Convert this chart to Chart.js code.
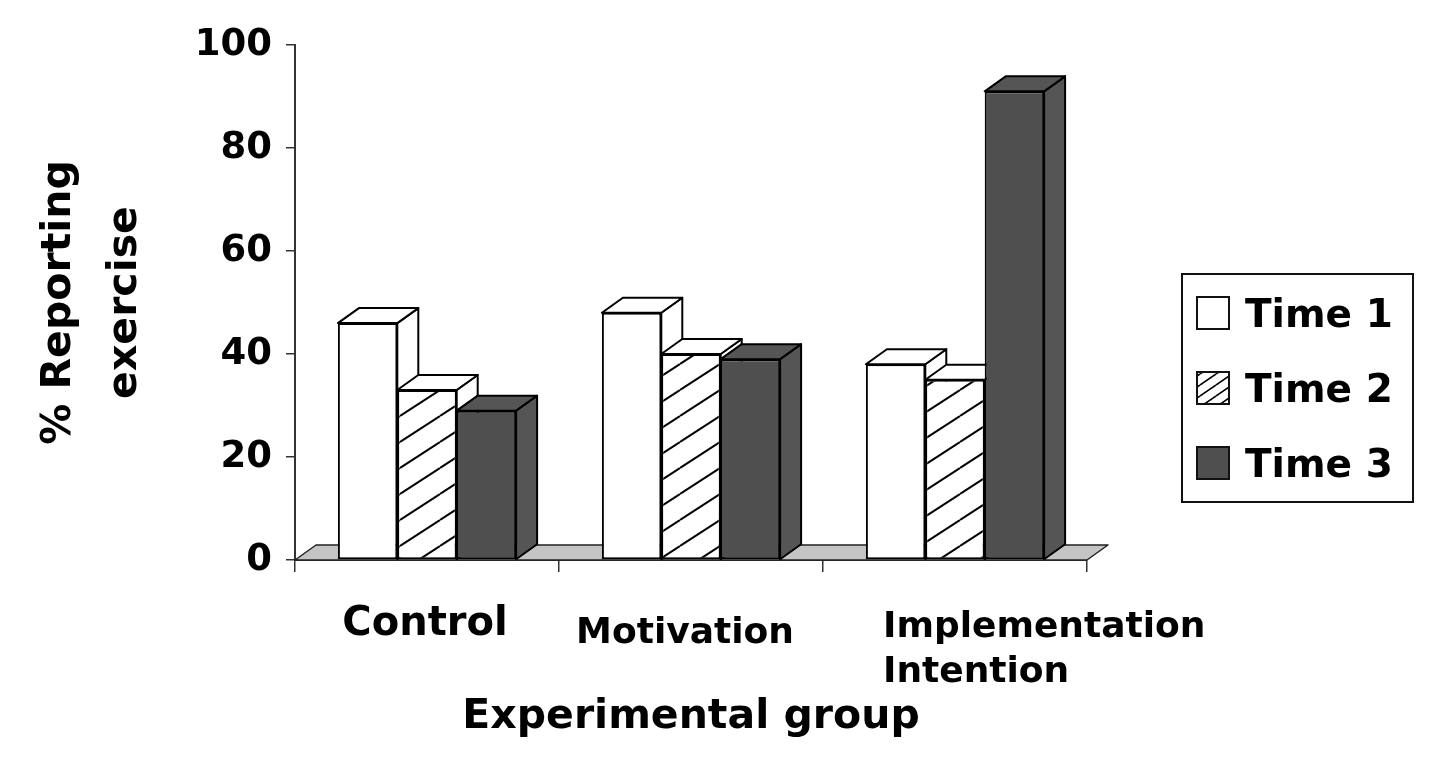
<!DOCTYPE html>
<html>
<head>
<meta charset="utf-8">
<script src="https://cdn.jsdelivr.net/npm/chart.js@4.4.1/dist/chart.umd.min.js"></script>
<style>
  html, body { margin: 0; padding: 0; background: #fff; }
  #wrap { width: 1440px; height: 757px; position: relative; }
</style>
</head>
<body>
<div id="wrap"><canvas id="chart"></canvas></div>
<script>
// values
const categories = ['Control', 'Motivation', ['Implementation', 'Intention']];
const seriesNames = ['Time 1', 'Time 2', 'Time 3'];
const time1 = [46, 48, 38];
const time2 = [33, 40, 35];
const time3 = [29, 39, 91];
const yTicks = [0, 20, 40, 60, 80, 100];

const FONT = "'DejaVu Sans', 'Liberation Sans', sans-serif";
const depth = { dx: 21, dy: -15 };

const ctx = document.getElementById('chart').getContext('2d');

function hatch(w, h, lw) {
    const c = document.createElement('canvas');
    c.width = w; c.height = h;
    const g = c.getContext('2d');
    g.fillStyle = '#fff';
    g.fillRect(0, 0, w, h);
    g.strokeStyle = '#000';
    g.lineWidth = lw;
    for (let k = -1; k <= 1; k++) {
        g.beginPath();
        g.moveTo(0, h + k * h);
        g.lineTo(w, k * h);
        g.stroke();
    }
    return ctx.createPattern(c, 'repeat');
}

const barHatch = hatch(40, 26, 2);
const keyHatch = hatch(16, 11, 1.6);

// fill for front, faces (side/top), legend swatch
const looks = [
    { front: '#ffffff', face: '#ffffff', key: '#ffffff' },
    { front: barHatch, face: '#ffffff', key: keyHatch },
    { front: '#4f4f4f', face: '#555555', key: '#4f4f4f' }
];

// per-label look of the category names (they sit unevenly in the original)
const catStyle = [
    { size: 40, dx: -2, y: 75, lh: 0, align: 'center' },
    { size: 36, dx: -6, y: 83, lh: 0, align: 'center' },
    { size: 36, dx: -72, y: 77, lh: 45, align: 'left' }
];

const bars3d = {
    id: 'bars3d',
    beforeDatasetsDraw(chart) {
        const { ctx, chartArea, scales: { y } } = chart;
        const base = y.getPixelForValue(0);
        ctx.save();
        ctx.lineJoin = 'round';
        // floor
        ctx.beginPath();
        ctx.moveTo(chartArea.left, base);
        ctx.lineTo(chartArea.right, base);
        ctx.lineTo(chartArea.right + depth.dx, base + depth.dy);
        ctx.lineTo(chartArea.left + depth.dx, base + depth.dy);
        ctx.closePath();
        ctx.fillStyle = '#c4c4c4';
        ctx.fill();
        ctx.strokeStyle = '#222';
        ctx.lineWidth = 1.5;
        ctx.stroke();

        // sides and tops, series by series so later ones cover earlier ones
        chart.data.datasets.forEach((ds, di) => {
            const meta = chart.getDatasetMeta(di);
            meta.data.forEach(bar => {
                const p = bar.getProps(['x', 'y', 'base', 'width'], true);
                const x0 = p.x - p.width / 2, x1 = p.x + p.width / 2;
                ctx.fillStyle = looks[di].face;
                ctx.strokeStyle = '#000';
                ctx.lineWidth = 2;
                ctx.beginPath();
                ctx.moveTo(x1, p.base);
                ctx.lineTo(x1 + depth.dx, p.base + depth.dy);
                ctx.lineTo(x1 + depth.dx, p.y + depth.dy);
                ctx.lineTo(x1, p.y);
                ctx.closePath();
                ctx.fill();
                ctx.stroke();
                ctx.beginPath();
                ctx.moveTo(x0, p.y);
                ctx.lineTo(x0 + depth.dx, p.y + depth.dy);
                ctx.lineTo(x1 + depth.dx, p.y + depth.dy);
                ctx.lineTo(x1, p.y);
                ctx.closePath();
                ctx.fill();
                ctx.stroke();
            });
        });
        ctx.restore();
    },
    afterDraw(chart) {
        const { ctx, scales: { x } } = chart;
        ctx.save();
        ctx.fillStyle = '#000';
        ctx.textBaseline = 'alphabetic';
        // category names
        categories.forEach((lab, i) => {
            const st = catStyle[i];
            const lines = Array.isArray(lab) ? lab : [lab];
            ctx.font = 'bold ' + st.size + 'px ' + FONT;
            ctx.textAlign = st.align;
            const px = x.getPixelForTick(i) + st.dx;
            lines.forEach((ln, j) => ctx.fillText(ln, px, x.top + st.y + j * st.lh));
        });

        // legend box
        ctx.lineWidth = 2;
        ctx.strokeStyle = '#111';
        ctx.strokeRect(1182, 274, 231, 228);
        ctx.font = 'bold 39px ' + FONT;
        ctx.textAlign = 'left';
        chart.data.datasets.forEach((ds, i) => {
            const top = 297 + i * 75;
            ctx.fillStyle = looks[i].key;
            ctx.fillRect(1197, top, 32, 32);
            ctx.lineWidth = 2;
            ctx.strokeRect(1197, top, 32, 32);
            ctx.fillStyle = '#000';
            ctx.fillText(ds.label, 1245, top + 30);
        });
        ctx.restore();
    }
};

new Chart(ctx, {
    type: 'bar',
    data: {
        labels: categories,
        datasets: [time1, time2, time3].map((vals, i) => ({
            label: seriesNames[i],
            data: vals,
            backgroundColor: looks[i].front,
            borderColor: '#000',
            borderWidth: 2,
            borderSkipped: false,
            categoryPercentage: 0.675,
            barPercentage: 1
        }))
    },
    options: {
        responsive: true,
        maintainAspectRatio: false,
        animation: false,
        layout: {
            padding: { left: 0, right: 353, top: 45, bottom: 15 }
        },
        plugins: {
            legend: { display: false },
            tooltip: { enabled: false }
        },
        scales: {
            x: {
                afterFit: s => { s.height = 182; },
                grid: {
                    offset: true,
                    drawOnChartArea: false,
                    tickLength: 12,
                    color: '#333',
                    lineWidth: 1.5
                },
                border: { color: '#333', width: 2 },
                ticks: { display: false },
                title: {
                    display: true,
                    text: 'Experimental group',
                    color: '#000',
                    font: { family: FONT, size: 41, weight: 'bold', lineHeight: 1.2 },
                    padding: { top: 122, bottom: 0 }
                }
            },
            y: {
                min: 0,
                max: 100,
                afterFit: s => { s.width = 295; },
                afterBuildTicks: s => { s.ticks = yTicks.map(v => ({ value: v })); },
                grid: {
                    drawOnChartArea: false,
                    tickLength: 9,
                    color: '#333',
                    lineWidth: 1.5
                },
                border: { color: '#333', width: 2 },
                ticks: {
                    color: '#000',
                    padding: 14,
                    font: { family: FONT, size: 37, weight: 'bold' }
                },
                title: {
                    display: true,
                    text: ['% Reporting', 'exercise'],
                    color: '#000',
                    font: { family: FONT, size: 41, weight: 'bold', lineHeight: 1.6 },
                    padding: { top: 27, bottom: 0 }
                }
            }
        }
    },
    plugins: [bars3d]
});
</script>
</body>
</html>
